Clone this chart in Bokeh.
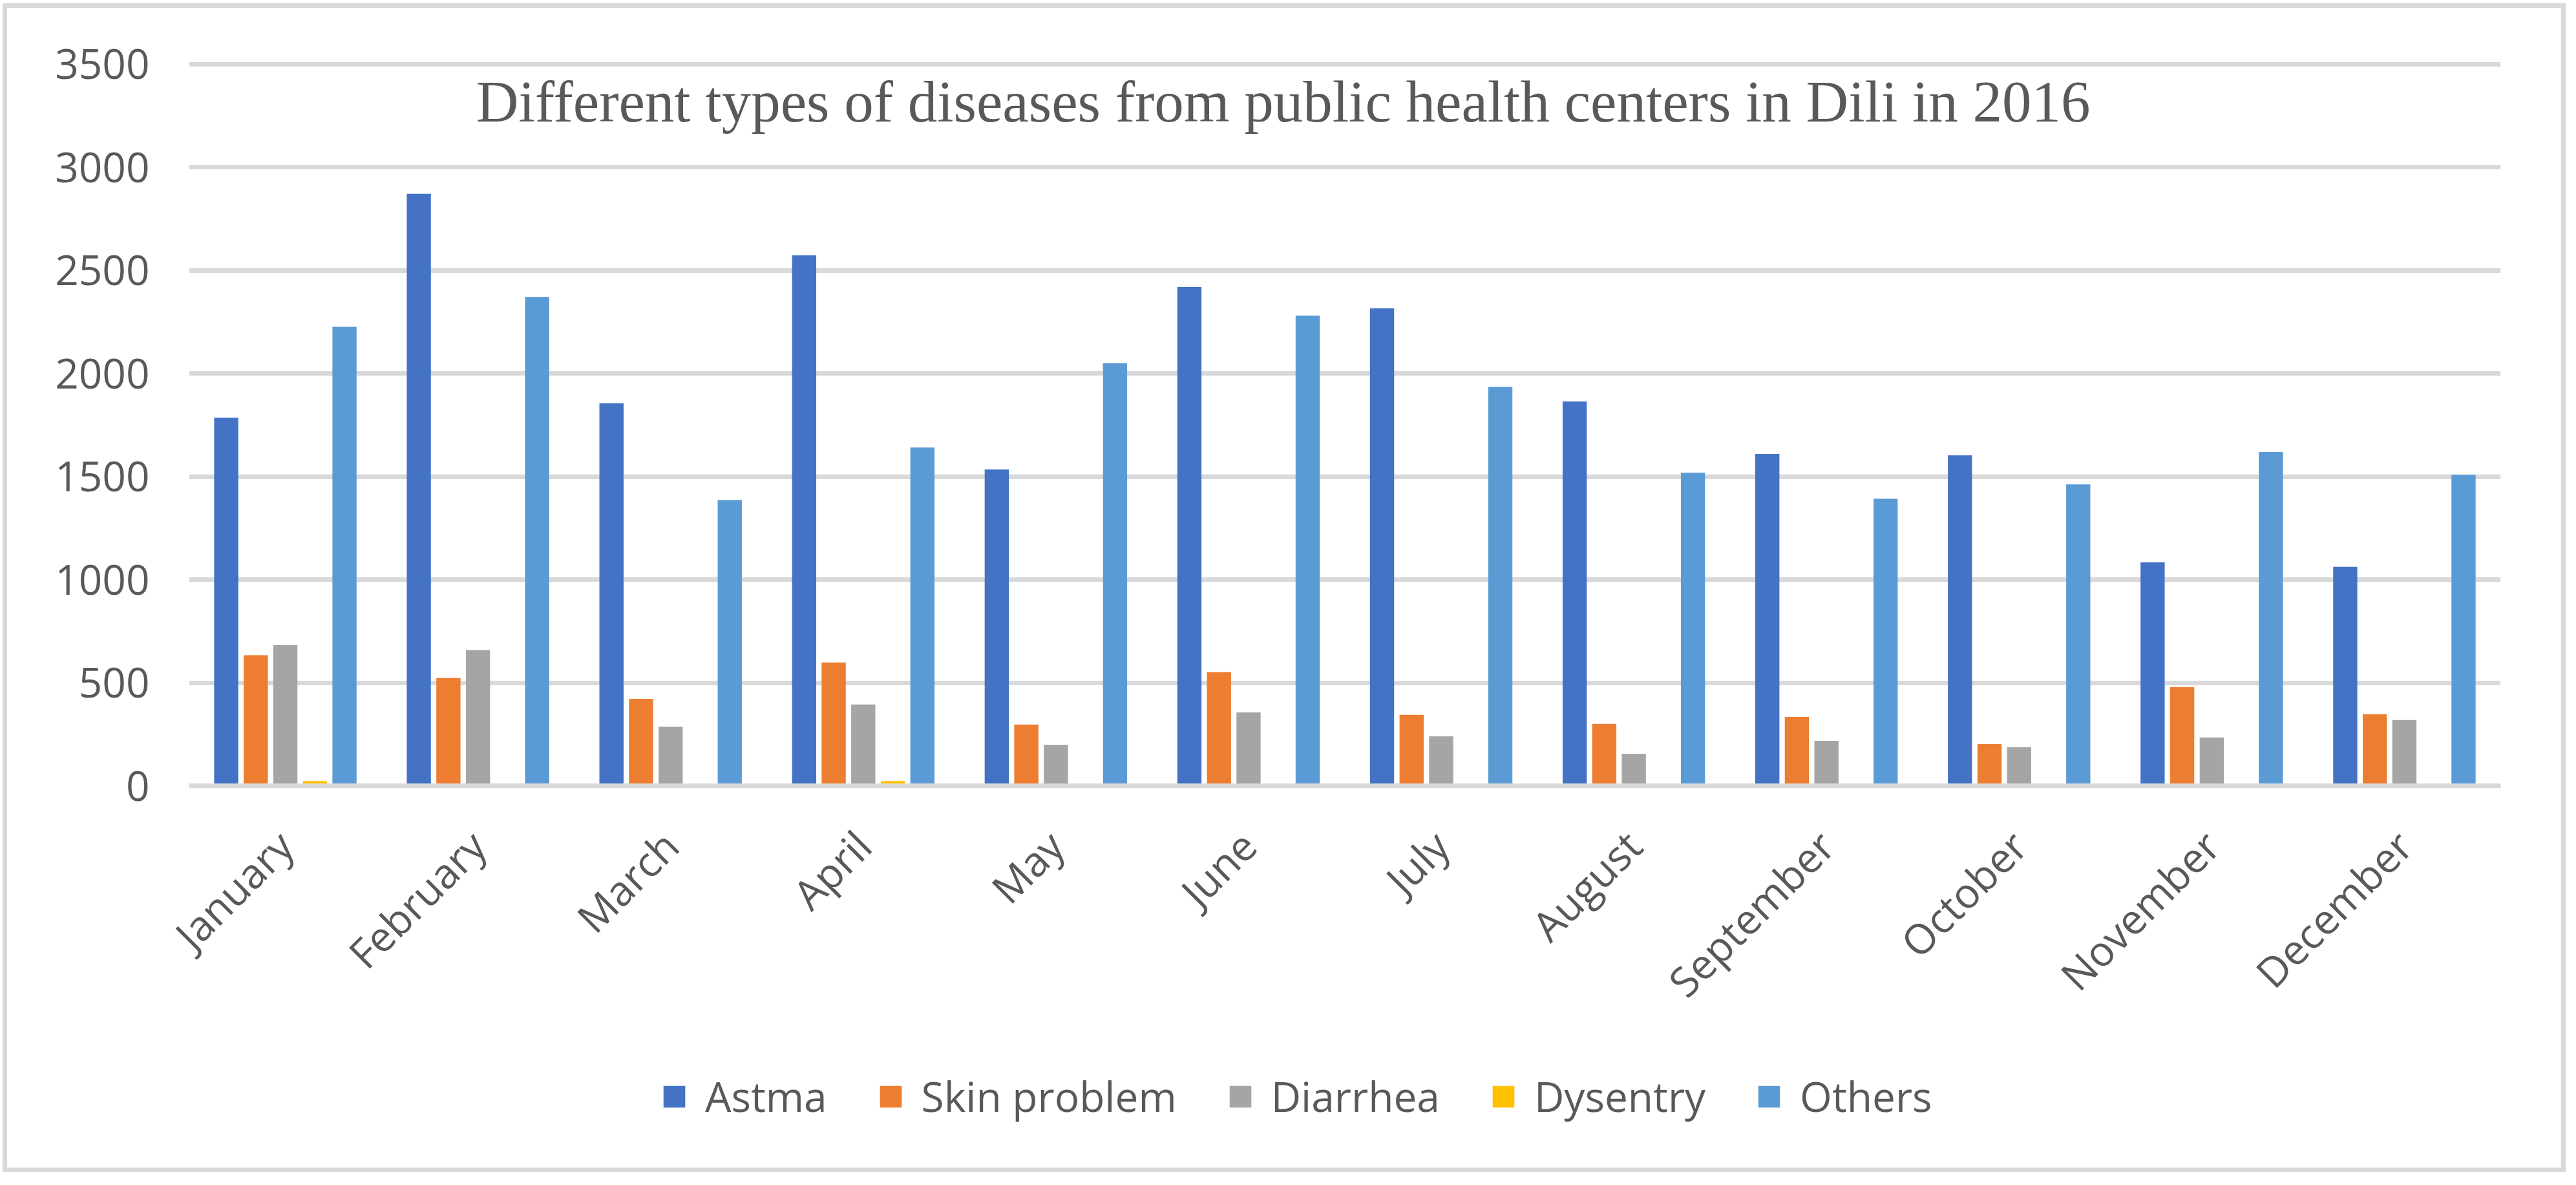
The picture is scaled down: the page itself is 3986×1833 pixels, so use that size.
import math
from bokeh.plotting import figure
from bokeh.layouts import column
from bokeh.models import (FactorRange, Range1d, Legend, LegendItem, Label,
                          ColumnDataSource, FixedTicker)
from bokeh.transform import dodge
from bokeh.embed import file_html
from bokeh.resources import INLINE

months = ["January", "February", "March", "April", "May", "June", "July",
          "August", "September", "October", "November", "December"]
astma = [1785, 2871, 1855, 2572, 1534, 2419, 2315, 1864, 1610, 1603, 1084, 1062]
skin = [633, 523, 422, 598, 297, 551, 344, 300, 334, 202, 479, 347]
diarrhea = [683, 658, 287, 394, 199, 356, 240, 155, 218, 187, 234, 319]
dysentry = [23, 0, 0, 23, 0, 0, 0, 0, 0, 0, 0, 0]
others = [2226, 2371, 1386, 1640, 2049, 2280, 1934, 1518, 1392, 1462, 1619, 1508]

series_names = ["Astma", "Skin problem", "Diarrhea", "Dysentry", "Others"]
series_keys = ["astma", "skin", "diarrhea", "dysentry", "others"]
series_colors = ["#4472C4", "#ED7D31", "#A5A5A5", "#FFC000", "#5B9BD5"]
y_ticks = [0, 500, 1000, 1500, 2000, 2500, 3000, 3500]
title_text = "Different types of diseases from public health centers in Dili in 2016"

src = ColumnDataSource(dict(month=months, astma=astma, skin=skin,
                            diarrhea=diarrhea, dysentry=dysentry, others=others))

TXT = "#595959"
GRID = "#D9D9D9"
FONT = "Open Sans"

# ---- main chart ----
p = figure(x_range=FactorRange(*months), y_range=Range1d(0, 3530),
           width=3970, height=1600, output_backend="svg", toolbar_location=None,
           min_border_left=292, min_border_right=101, min_border_top=89,
           min_border_bottom=385)
p.outline_line_color = None
p.background_fill_color = "white"
p.border_fill_color = "white"

slot = 0.1535
bar_w = 0.1254
for i, (key, col) in enumerate(zip(series_keys, series_colors)):
    p.vbar(x=dodge("month", (i - 2) * slot, range=p.x_range), top=key,
           width=bar_w, source=src, fill_color=col, line_color=None)

p.yaxis.ticker = FixedTicker(ticks=y_ticks)
p.yaxis.axis_line_color = None
p.yaxis.major_tick_line_color = None
p.yaxis.minor_tick_line_color = None
p.yaxis.major_label_text_font = FONT
p.yaxis.major_label_text_font_size = "64px"
p.yaxis.major_label_text_color = TXT
p.yaxis.major_label_standoff = 55

p.xaxis.axis_line_color = GRID
p.xaxis.axis_line_width = 7.5
p.xaxis.major_tick_line_color = None
p.xaxis.minor_tick_line_color = None
p.xaxis.major_label_orientation = math.pi / 4
p.xaxis.major_label_text_font = FONT
p.xaxis.major_label_text_font_size = "64px"
p.xaxis.major_label_text_color = TXT
p.xaxis.major_label_standoff = 75

p.xgrid.grid_line_color = None
p.ygrid.grid_line_color = GRID
p.ygrid.grid_line_width = 7

title = Label(x=5.68, y=3318, text=title_text, text_align="center",
              text_baseline="alphabetic", text_font="Liberation Serif",
              text_font_size="91px", text_color=TXT)
p.add_layout(title)

# ---- legend strip (proxy renderers lie outside its visible range) ----
lg = figure(width=3970, height=217, output_backend="svg", toolbar_location=None,
            x_axis_location=None, y_axis_location=None,
            x_range=Range1d(0, 1), y_range=Range1d(0, 1),
            min_border_left=0, min_border_right=0, min_border_top=0,
            min_border_bottom=0)
lg.outline_line_color = None
lg.xgrid.grid_line_color = None
lg.ygrid.grid_line_color = None
lg.border_fill_color = "white"
lg.background_fill_color = "white"

proxy = ColumnDataSource(dict(x=[-5], top=[-5]))
items = []
for name, col in zip(series_names, series_colors):
    r = lg.vbar(x="x", top="top", width=0.1, source=proxy,
                fill_color=col, line_color=None)
    items.append(LegendItem(label=name, renderers=[r]))

legend = Legend(items=items, orientation="horizontal", location=(730, 78),
                glyph_width=42, glyph_height=42, label_standoff=27, spacing=77,
                padding=0, margin=0, border_line_color=None,
                background_fill_alpha=0, label_text_font=FONT,
                label_text_font_size="64px", label_text_color=TXT)
lg.add_layout(legend, "center")

border_css = (":host { position: relative; } "
              ":host::after { content: ''; position: absolute; left: 4px; top: 5px; "
              "right: 0px; bottom: 4px; box-sizing: border-box; "
              "border: 7px solid #D9D9D9; pointer-events: none; z-index: 10; }")

layout = column(p, lg, spacing=0, stylesheets=[border_css])

open("out.html", "w").write(file_html(layout, INLINE))
